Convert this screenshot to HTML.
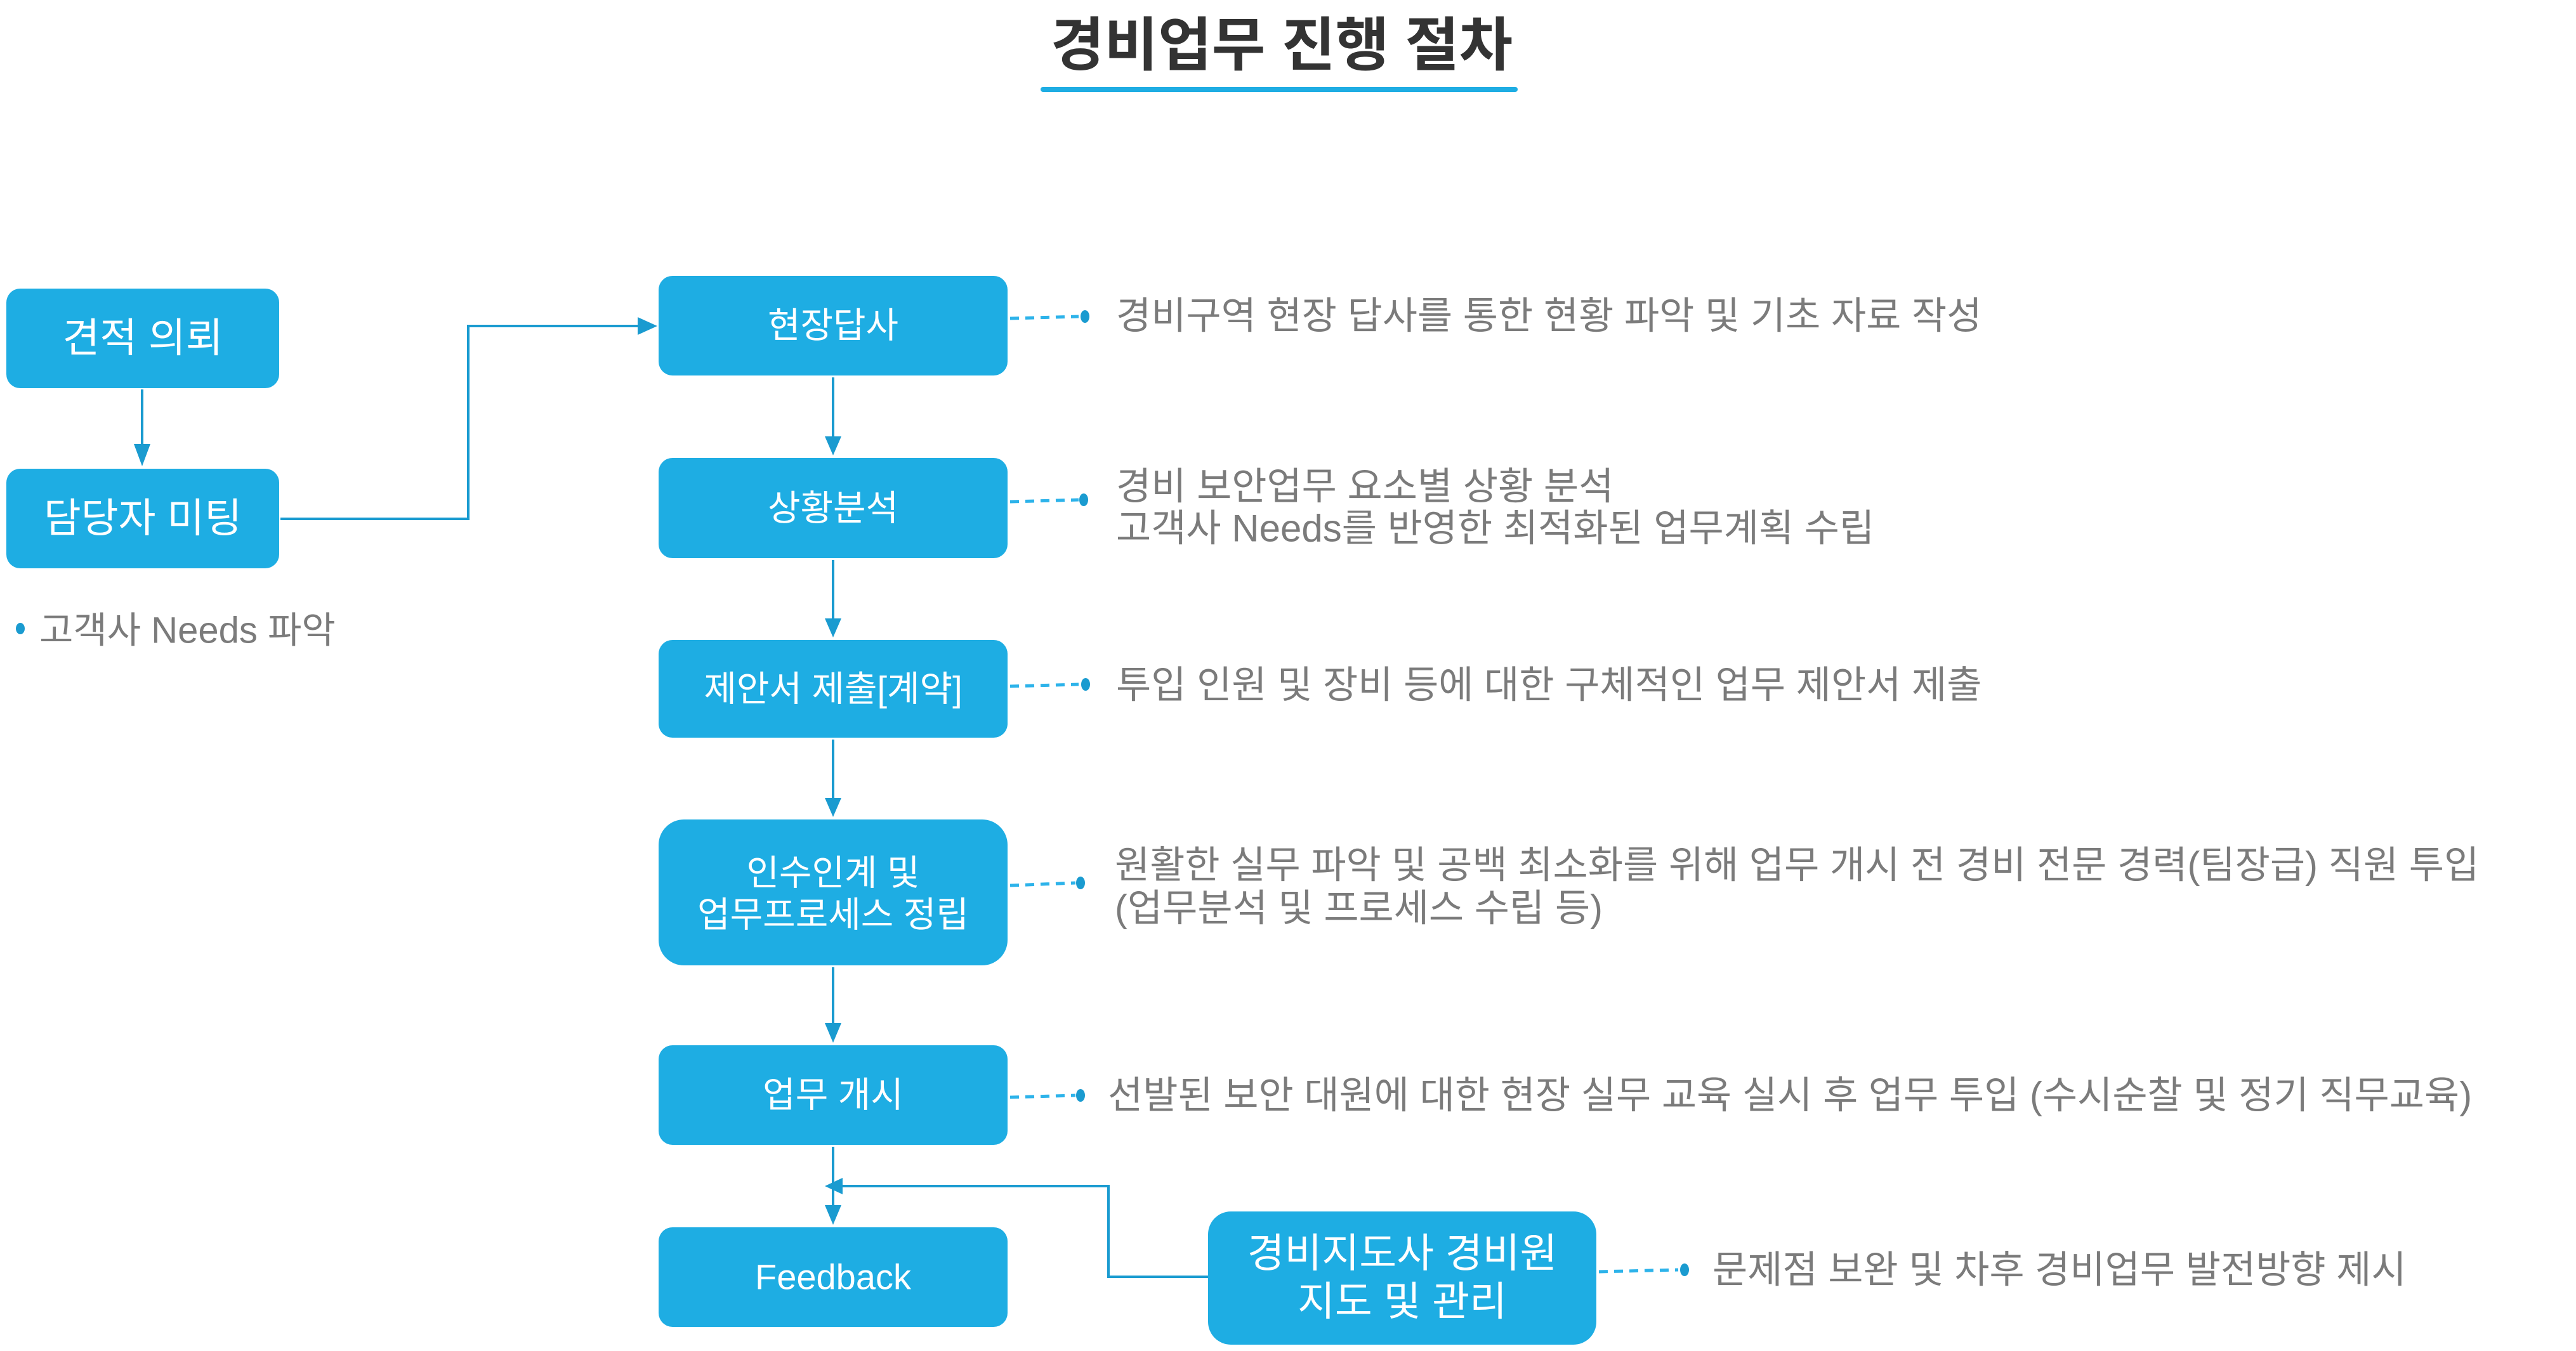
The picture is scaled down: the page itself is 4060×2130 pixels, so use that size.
<!DOCTYPE html>
<html><head><meta charset="utf-8"><style>
html,body{margin:0;padding:0;background:#fff;}
svg{display:block;}
text{font-family:"Liberation Sans","Noto Sans CJK KR",sans-serif;}
.bx{fill:#1EADE3;}
.bt{fill:#fff;font-size:56px;text-anchor:middle;dominant-baseline:central;}
.bl{fill:#fff;font-size:64px;text-anchor:middle;dominant-baseline:central;}
.gt{fill:#7b7b7b;font-size:60px;dominant-baseline:central;}
.ln{stroke:#1A9BD0;stroke-width:4;fill:none;}
.ds{stroke:#2DB3EA;stroke-width:5;stroke-dasharray:14 10;fill:none;}
.ah{fill:#1A9BD0;}
.dt{fill:#1A9BD0;}
</style></head><body>
<svg width="4060" height="2130" viewBox="0 0 4060 2130" xmlns="http://www.w3.org/2000/svg">
<text x="2020" y="72" style="font-size:92px;font-weight:bold;fill:#333;text-anchor:middle;dominant-baseline:central;">경비업무 진행 절차</text>
<line x1="1644" y1="141" x2="2388" y2="141" stroke="#1EADE3" stroke-width="8" stroke-linecap="round"/>

<rect class="bx" x="10" y="455" width="430" height="157" rx="22"/>
<text class="bl" x="225" y="533">견적 의뢰</text>
<rect class="bx" x="10" y="739" width="430" height="157" rx="22"/>
<text class="bl" x="225" y="817">담당자 미팅</text>
<line class="ln" x1="224" y1="614" x2="224" y2="705"/>
<polygon class="ah" points="211,700 237,700 224,735"/>
<ellipse class="dt" cx="32" cy="991" rx="7" ry="9"/>
<text class="gt" x="62" y="994" style="font-size:58px">고객사 Needs 파악</text>

<polyline class="ln" points="442,818 738,818 738,514 1010,514"/>
<polygon class="ah" points="1005,500 1005,528 1036,514"/>

<rect class="bx" x="1038" y="435" width="550" height="157" rx="22"/>
<text class="bt" x="1313" y="513">현장답사</text>
<rect class="bx" x="1038" y="722" width="550" height="158" rx="22"/>
<text class="bt" x="1313" y="801">상황분석</text>
<rect class="bx" x="1038" y="1009" width="550" height="154" rx="22"/>
<text class="bt" x="1313" y="1086">제안서 제출[계약]</text>
<rect class="bx" x="1038" y="1292" width="550" height="230" rx="40"/>
<text class="bt" x="1313" y="1376">인수인계 및</text>
<text class="bt" x="1313" y="1442">업무프로세스 정립</text>
<rect class="bx" x="1038" y="1648" width="550" height="157" rx="22"/>
<text class="bt" x="1313" y="1726">업무 개시</text>
<rect class="bx" x="1038" y="1935" width="550" height="157" rx="22"/>
<text class="bt" x="1313" y="2013">Feedback</text>

<line class="ln" x1="1313" y1="595" x2="1313" y2="690"/><polygon class="ah" points="1300,688 1326,688 1313,718"/>
<line class="ln" x1="1313" y1="883" x2="1313" y2="977"/><polygon class="ah" points="1300,975 1326,975 1313,1005"/>
<line class="ln" x1="1313" y1="1166" x2="1313" y2="1260"/><polygon class="ah" points="1300,1258 1326,1258 1313,1288"/>
<line class="ln" x1="1313" y1="1525" x2="1313" y2="1615"/><polygon class="ah" points="1300,1613 1326,1613 1313,1644"/>
<line class="ln" x1="1313" y1="1808" x2="1313" y2="1902"/><polygon class="ah" points="1300,1900 1326,1900 1313,1931"/>

<rect class="bx" x="1904" y="1910" width="612" height="210" rx="36"/>
<text class="bl" x="2210" y="1976">경비지도사 경비원</text>
<text class="bl" x="2210" y="2052">지도 및 관리</text>
<polyline class="ln" points="1904,2013 1747,2013 1747,1870 1322,1870"/>
<polygon class="ah" points="1328,1857 1328,1883 1300,1870"/>

<line class="ds" x1="1592" y1="502" x2="1700" y2="499"/><ellipse class="dt" cx="1710" cy="499" rx="7" ry="10"/>
<text class="gt" x="1759" y="498">경비구역 현장 답사를 통한 현황 파악 및 기초 자료 작성</text>

<line class="ds" x1="1592" y1="791" x2="1700" y2="788"/><ellipse class="dt" cx="1708" cy="788" rx="7" ry="10"/>
<text class="gt" x="1759" y="767">경비 보안업무 요소별 상황 분석</text>
<text class="gt" x="1759" y="833">고객사 Needs를 반영한 최적화된 업무계획 수립</text>

<line class="ds" x1="1592" y1="1082" x2="1700" y2="1079"/><ellipse class="dt" cx="1711" cy="1079" rx="7" ry="10"/>
<text class="gt" x="1759" y="1080">투입 인원 및 장비 등에 대한 구체적인 업무 제안서 제출</text>

<line class="ds" x1="1592" y1="1396" x2="1695" y2="1392"/><ellipse class="dt" cx="1703" cy="1392" rx="7" ry="10"/>
<text class="gt" x="1757" y="1364">원활한 실무 파악 및 공백 최소화를 위해 업무 개시 전 경비 전문 경력(팀장급) 직원 투입</text>
<text class="gt" x="1757" y="1432">(업무분석 및 프로세스 수립 등)</text>

<line class="ds" x1="1592" y1="1730" x2="1695" y2="1727"/><ellipse class="dt" cx="1703" cy="1727" rx="7" ry="10"/>
<text class="gt" x="1746" y="1727">선발된 보안 대원에 대한 현장 실무 교육 실시  후 업무 투입 (수시순찰 및 정기 직무교육)</text>

<line class="ds" x1="2520" y1="2005" x2="2645" y2="2002"/><ellipse class="dt" cx="2655" cy="2002" rx="7" ry="10"/>
<text class="gt" x="2699" y="2002">문제점 보완 및 차후 경비업무 발전방향 제시</text>
</svg>
</body></html>
